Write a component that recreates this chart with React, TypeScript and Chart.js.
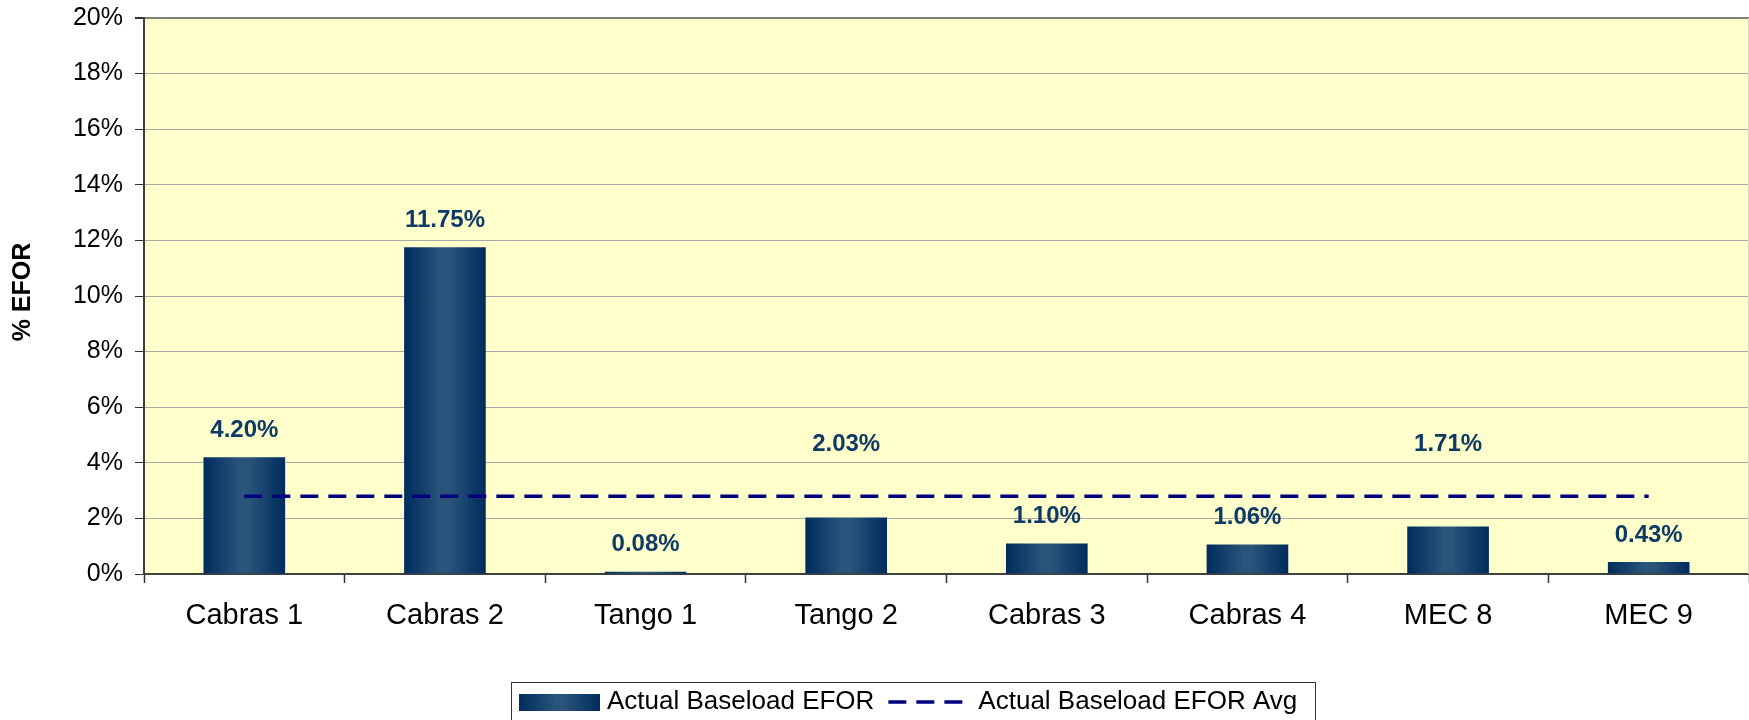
import React, { useEffect, useRef } from "react";
import { Chart, registerables } from "chart.js";

Chart.register(...registerables);

const categories = ["Cabras 1", "Cabras 2", "Tango 1", "Tango 2", "Cabras 3", "Cabras 4", "MEC 8", "MEC 9"];
const eforValues = [4.2, 11.75, 0.08, 2.03, 1.1, 1.06, 1.71, 0.43];
const eforAvg = [2.8, 2.8, 2.8, 2.8, 2.8, 2.8, 2.8, 2.8];
const yTicks = [0, 2, 4, 6, 8, 10, 12, 14, 16, 18, 20];
const seriesNames = ["Actual Baseload EFOR", "Actual Baseload EFOR Avg"];
const yTitle = "% EFOR";

const FONT = "'Liberation Sans', Arial, Helvetica, sans-serif";
const BAR_FRACTION = 0.407;

function barGradient(chart: any, x0: number, x1: number) {
  const g = chart.ctx.createLinearGradient(x0, 0, x1, 0);
  g.addColorStop(0, "#002C5E");
  g.addColorStop(0.45, "#2A5479");
  g.addColorStop(0.55, "#2A5479");
  g.addColorStop(1, "#002C5E");
  return g;
}

const bgPlugin = {
  id: "plotBg",
  beforeDraw(chart: any) {
    const { ctx, chartArea } = chart;
    if (!chartArea) return;
    ctx.save();
    ctx.fillStyle = "#FFFFFF";
    ctx.fillRect(0, 0, chart.width, chart.height);
    ctx.fillStyle = "#FFFFCC";
    ctx.fillRect(chartArea.left, chartArea.top, chartArea.right - chartArea.left, chartArea.bottom - chartArea.top);
    ctx.restore();
  },
};

const extrasPlugin = {
  id: "extras",
  afterDatasetsDraw(chart: any) {
    const { ctx, scales } = chart;
    const yScale = scales.y;
    const avgY = yScale.getPixelForValue(eforAvg[0]);
    const meta = chart.getDatasetMeta(0);
    ctx.save();
    ctx.font = `bold 24px ${FONT}`;
    ctx.fillStyle = "#0E3A68";
    ctx.textAlign = "center";
    ctx.textBaseline = "middle";
    meta.data.forEach((bar: any, i: number) => {
      let ly = bar.y - 27;
      if (Math.abs(ly - avgY) < 12) ly = avgY - 52;
      ctx.fillText(eforValues[i].toFixed(2) + "%", bar.x, ly);
    });
    ctx.restore();
  },
  afterDraw(chart: any) {
    const { ctx, chartArea } = chart;
    ctx.save();
    ctx.translate(23, (chartArea.top + chartArea.bottom) / 2 - 4);
    ctx.rotate(-Math.PI / 2);
    ctx.font = `bold 25px ${FONT}`;
    ctx.fillStyle = "#000000";
    ctx.textAlign = "center";
    ctx.textBaseline = "middle";
    ctx.fillText(yTitle, 0, 0);
    ctx.restore();

    ctx.save();
    const boxL = 511;
    const boxR = 1315;
    const boxT = 682;
    ctx.strokeStyle = "#333333";
    ctx.lineWidth = 1;
    ctx.strokeRect(boxL + 0.5, boxT + 0.5, boxR - boxL, 60);
    const cy = 702;
    ctx.fillStyle = barGradient(chart, 519, 600);
    ctx.fillRect(519, 694, 81, 17);
    ctx.font = `26px ${FONT}`;
    ctx.fillStyle = "#000000";
    ctx.textAlign = "left";
    ctx.textBaseline = "middle";
    ctx.fillText(seriesNames[0], 607, cy);
    const w0 = ctx.measureText(seriesNames[0]).width;
    const dx = 607 + w0 + 14;
    ctx.strokeStyle = "#000080";
    ctx.lineWidth = 3.5;
    ctx.setLineDash([18, 10]);
    ctx.beginPath();
    ctx.moveTo(dx, cy);
    ctx.lineTo(dx + 76, cy);
    ctx.stroke();
    ctx.setLineDash([]);
    ctx.fillText(seriesNames[1], dx + 90, cy);
    ctx.restore();

    ctx.save();
    ctx.strokeStyle = "#D8D8B0";
    ctx.lineWidth = 1;
    ctx.beginPath();
    ctx.moveTo(chartArea.right - 0.5, chartArea.top);
    ctx.lineTo(chartArea.right - 0.5, chartArea.bottom);
    ctx.stroke();
    ctx.restore();
  },
};

export default function App() {
  const canvasRef = useRef<HTMLCanvasElement | null>(null);

  useEffect(() => {
    document.body.style.margin = "0";
    const canvas = canvasRef.current;
    if (!canvas) return;
    const chart = new Chart(canvas, {
      type: "bar",
      data: {
        labels: categories,
        datasets: [
          {
            type: "bar",
            label: seriesNames[0],
            data: eforValues,
            categoryPercentage: 1,
            barPercentage: BAR_FRACTION,
            borderWidth: 0,
            order: 2,
            backgroundColor: (c: any) => {
              const chart = c.chart;
              const xs = chart.scales && chart.scales.x;
              if (!xs || !chart.chartArea || c.dataIndex === undefined) return "#1B4470";
              const cx = xs.getPixelForValue(c.dataIndex);
              const half = ((xs.right - xs.left) / categories.length) * BAR_FRACTION / 2;
              return barGradient(chart, cx - half, cx + half);
            },
          },
          {
            type: "line",
            label: seriesNames[1],
            data: eforAvg,
            borderColor: "#000080",
            borderWidth: 3.5,
            borderDash: [18, 10],
            pointRadius: 0,
            fill: false,
            order: 1,
          },
        ] as any,
      },
      options: {
        animation: false,
        responsive: true,
        maintainAspectRatio: false,
        layout: { padding: { top: 18, right: 0, left: 0, bottom: 0 } },
        plugins: {
          legend: { display: false },
          tooltip: { enabled: false },
          title: { display: false },
        },
        scales: {
          x: {
            offset: true,
            afterFit: (s: any) => {
              s.height = 146;
              s.paddingLeft = 0;
              s.paddingRight = 0;
            },
            grid: {
              offset: true,
              drawOnChartArea: false,
              drawTicks: true,
              tickLength: 9,
              tickColor: "#333333",
              tickWidth: 1.5,
            },
            border: { color: "#404040", width: 2 },
            ticks: {
              color: "#000000",
              font: { family: FONT, size: 29 },
              padding: 16,
              maxRotation: 0,
              autoSkip: false,
            },
          },
          y: {
            min: 0,
            max: 20,
            afterFit: (s: any) => {
              s.width = 144;
              s.paddingTop = 0;
              s.paddingBottom = 0;
            },
            afterBuildTicks: (s: any) => {
              s.ticks = yTicks.map((v) => ({ value: v }));
            },
            grid: {
              color: (c: any) => (c.tick && c.tick.value === 20 ? "#808080" : "#A8A8A8"),
              lineWidth: (c: any) => (c.tick && c.tick.value === 20 ? 2 : 1),
              drawTicks: true,
              tickLength: 9,
              tickColor: "#333333",
            },
            border: { color: "#404040", width: 2 },
            ticks: {
              color: "#000000",
              font: { family: FONT, size: 25 },
              padding: 12,
              callback: (v: any) => `${v}%`,
            },
          },
        },
      },
      plugins: [bgPlugin, extrasPlugin],
    } as any);
    return () => chart.destroy();
  }, []);

  return (
    <div style={{ position: "absolute", left: 0, top: 0, width: 1749, height: 720 }}>
      <canvas ref={canvasRef} />
    </div>
  );
}
